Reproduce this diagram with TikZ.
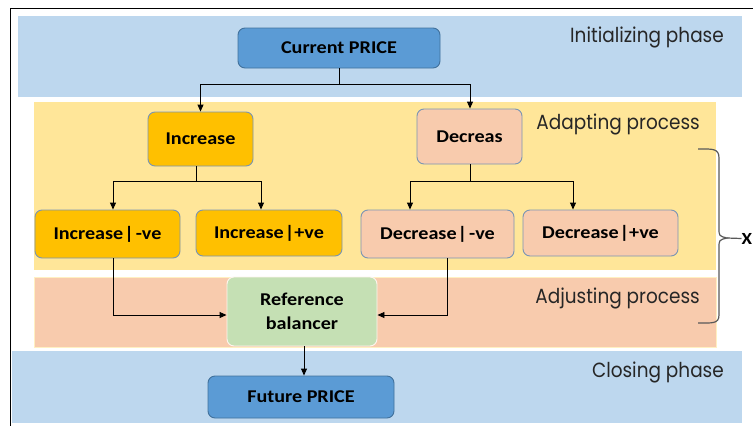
\documentclass[tikz,border=0pt]{standalone}
\usepackage{fontspec}
\setmainfont{Carlito}[FakeStretch=1.12]
\newfontfamily\phasefont{Poppins}[FakeStretch=0.9]
\usetikzlibrary{arrows.meta}

\definecolor{bandblue}{HTML}{BDD7EE}
\definecolor{bandyellow}{HTML}{FFE699}
\definecolor{bandsalmon}{HTML}{F8CBAD}
\definecolor{boxblue}{HTML}{5B9BD5}
\definecolor{boxgold}{HTML}{FFC000}
\definecolor{boxsalmon}{HTML}{F8CBAD}
\definecolor{boxgreen}{HTML}{C5E0B4}
\definecolor{edgeblue}{HTML}{41719C}
\definecolor{edgegrey}{HTML}{7A95B4}

\begin{document}
\begin{tikzpicture}[x=1pt,y=-1pt,
  phase/.style={font=\phasefont\fontsize{20.5}{24}\selectfont, text=black!85, inner sep=0pt},
  box/.style={rectangle, rounded corners=7pt, line width=0.9pt, draw=edgegrey,
              font=\bfseries\fontsize{18}{21}\selectfont, align=center, inner sep=2pt},
  link/.style={line width=0.9pt, -{Triangle[length=7pt,width=6pt]}},
  wire/.style={line width=0.9pt},
  brace/.style={line width=1.2pt, draw=black!65}
]
\useasboundingbox (0,0) rectangle (753,426);
\fill[white] (0,0) rectangle (753,426);

% outer frame
\draw[line width=0.8pt] (10.5,426) -- (10.5,8.5) -- (753,8.5);

% phase bands
\fill[bandblue]   (18,16)  rectangle (742,97);
\fill[bandyellow] (34,102) rectangle (716,270);
\filldraw[fill=bandsalmon, draw=bandyellow!60!white, line width=0.8pt] (34,277) rectangle (716,347);
\fill[bandblue]   (12,351) rectangle (742,423);

\node[phase, anchor=east] (lblinit)  at (724,37)  {Initializing phase};
\node[phase, anchor=east] (lbladapt) at (700,124) {Adapting process};
\node[phase, anchor=east] (lbladj)   at (700,298) {Adjusting process};
\node[phase, anchor=east] (lblclose) at (724,372) {Closing phase};

% boxes
\node[box, fill=boxblue, draw=edgeblue, minimum width=202pt, minimum height=40pt] (cur) at (339,48) {Current PRICE};
\node[box, fill=boxgold, minimum width=105pt, minimum height=54pt] (inc) at (200.5,139) {Increase};
\node[box, fill=boxsalmon, minimum width=105pt, minimum height=55pt] (dec) at (469.5,136.5) {Decreas};
\node[box, fill=boxgold, minimum width=145pt, minimum height=48pt] (incm) at (107.5,234) {Increase\kern1pt|\kern2pt-ve};
\node[box, fill=boxgold, minimum width=146pt, minimum height=46pt] (incp) at (269,233) {Increase\kern1pt|+ve};
\node[box, fill=boxsalmon, minimum width=153pt, minimum height=48pt] (decm) at (437.5,234) {Decrease\kern1pt|\kern2pt-ve};
\node[box, fill=boxsalmon, minimum width=155pt, minimum height=46pt] (decp) at (600.5,233) {Decrease\kern1pt|+ve};
\node[box, fill=boxgreen, draw=white!80!boxsalmon, minimum width=150pt, minimum height=69pt] (ref) at (302,311.5) {Reference\\[3pt]balancer};
\node[box, fill=boxblue, draw=edgeblue, minimum width=186pt, minimum height=42pt] (fut) at (301,397) {Future PRICE};

% connectors
\draw[wire] (cur.south) -- ++(0,16) coordinate (split1);
\draw[link] (split1) -| (inc.north);
\draw[link] (split1) -| ([xshift=0.5pt]dec.north);

\draw[wire] ([xshift=-4pt]inc.south) -- ++(0,15) coordinate (split2);
\draw[link] (split2) -| ([xshift=5.5pt]incm.north);
\draw[link] (split2) -| ([xshift=-8pt]incp.north);

\draw[wire] ([xshift=0.5pt]dec.south) -- ++(0,17) coordinate (split3);
\draw[link] (split3) -| ([xshift=-27.5pt]decm.north);
\draw[link] (split3) -| ([xshift=-27.5pt]decp.north);

\draw[link] ([xshift=5.5pt]incm.south) |- ([yshift=-3.5pt]ref.west);
\draw[link] ([xshift=9.5pt]decm.south) |- ([yshift=-3.5pt]ref.east);
\draw[link] ([xshift=2pt]ref.south) -- ([xshift=3pt]fut.north);

% brace over the adapting and adjusting stages
\draw[brace] (698,149) .. controls (712,149) and (719,148) .. (719,158)
  -- (719,228) .. controls (719,236) .. (727,238)
  .. controls (719,240) .. (719,248) -- (719,315)
  .. controls (719,324) and (712,323) .. (698,323);
\coordinate (bracetip) at (727,238);
\node[font=\bfseries\fontsize{17}{20}\selectfont, anchor=west, inner sep=0pt] (xlbl) at (741.5,238.5) {X};
\draw[brace] (bracetip) -- (xlbl.west);
\end{tikzpicture}
\end{document}
